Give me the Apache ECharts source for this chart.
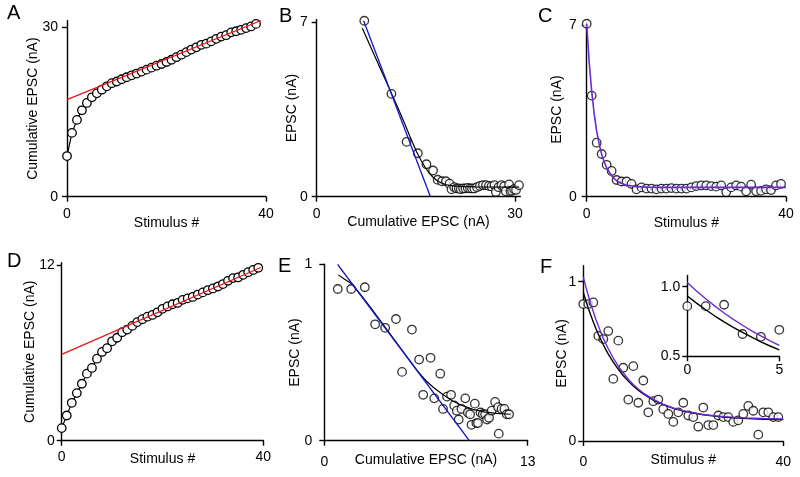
<!DOCTYPE html>
<html>
<head>
<meta charset="utf-8">
<script src="https://cdn.jsdelivr.net/npm/echarts@6/dist/echarts.min.js"></script>
<style>
html,body{margin:0;padding:0;background:#fff;}
#chart{width:800px;height:477px;}
</style>
</head>
<body>
<div id="chart"></div>
<script>
// ---------- DATA ----------
// Panel A: cumulative EPSC (nA) vs stimulus # (stimulus 0..38)
const cumulA = [7.2, 11.3, 13.6, 15.3, 16.6, 17.6, 18.3, 18.95, 19.55, 20.1, 20.4, 20.8, 21.15, 21.5, 21.8, 22.15, 22.5, 22.85, 23.2, 23.5, 23.85, 24.25, 24.7, 25.15, 25.6, 26.05, 26.45, 26.9, 27.1, 27.5, 27.95, 28.35, 28.6, 29.1, 29.3, 29.55, 29.85, 30.15, 30.6];
const redFitA = [[0, 17.2], [39, 31.2]];
// Panel C: EPSC (nA) vs stimulus # (0..39)
const epscC = [7.05, 4.12, 2.2, 1.74, 1.3, 1.05, 0.68, 0.62, 0.62, 0.52, 0.3, 0.38, 0.33, 0.33, 0.3, 0.33, 0.33, 0.35, 0.33, 0.33, 0.33, 0.38, 0.43, 0.46, 0.46, 0.43, 0.41, 0.46, 0.19, 0.38, 0.46, 0.41, 0.22, 0.49, 0.22, 0.24, 0.3, 0.27, 0.46, 0.52];
const fitCx = [0, 0.5, 1, 1.5, 2, 2.5, 3, 3.5, 4, 5, 6, 7, 8, 10, 12, 15, 20, 40];
const purpleFitC = [7.05, 5.49, 4.3, 3.38, 2.68, 2.15, 1.73, 1.42, 1.18, 0.85, 0.65, 0.54, 0.47, 0.41, 0.39, 0.382, 0.38, 0.38];
// Panel B: fits of EPSC vs cumulative EPSC
const blackFitB = [[6.9, 6.75], [8, 6.1], [9.1, 5.45], [10.2, 4.8], [11.3, 4.15], [12.3, 3.55], [13.3, 2.93], [14.2, 2.35], [15.1, 1.8], [15.8, 1.45], [16.4, 1.18], [17, 0.95], [17.6, 0.78], [18.2, 0.65], [18.8, 0.56], [19.5, 0.49], [20.3, 0.44], [21.5, 0.41], [24, 0.39], [30.6, 0.38]];
const blueFitB = [[7.1, 7.05], [17.2, 0]];
// Panel D: cumulative EPSC (nA) vs stimulus # (0..39)
const cumulD = [0.86, 1.72, 2.59, 3.25, 3.89, 4.58, 4.97, 5.6, 6.06, 6.32, 6.79, 7.03, 7.41, 7.59, 7.84, 8.1, 8.3, 8.47, 8.59, 8.77, 9.01, 9.17, 9.32, 9.41, 9.62, 9.72, 9.82, 9.98, 10.13, 10.28, 10.4, 10.53, 10.7, 10.92, 11.11, 11.15, 11.33, 11.51, 11.66, 11.81];
const redFitD = [[0, 5.9], [39.5, 11.83]];
// Panel F: EPSC (nA) vs stimulus # (0..39)
const epscF = [0.86, 0.86, 0.87, 0.66, 0.64, 0.69, 0.39, 0.63, 0.46, 0.26, 0.47, 0.24, 0.38, 0.18, 0.25, 0.26, 0.2, 0.17, 0.12, 0.18, 0.24, 0.16, 0.15, 0.09, 0.21, 0.1, 0.1, 0.16, 0.15, 0.15, 0.12, 0.13, 0.17, 0.22, 0.19, 0.04, 0.18, 0.18, 0.15, 0.15];
const fitFx = [0, 0.5, 1, 1.5, 2, 2.5, 3, 3.5, 4, 4.5, 5, 6, 7, 8, 9, 10, 11, 12, 14, 16, 18, 20, 24, 28, 32, 36, 40];
const purpleFitF = [1.03, 0.969, 0.913, 0.86, 0.811, 0.765, 0.723, 0.683, 0.646, 0.611, 0.579, 0.521, 0.47, 0.427, 0.388, 0.355, 0.326, 0.301, 0.261, 0.23, 0.207, 0.189, 0.166, 0.153, 0.145, 0.141, 0.138];
const blackFitF = [0.933, 0.882, 0.834, 0.789, 0.747, 0.708, 0.671, 0.637, 0.604, 0.574, 0.546, 0.495, 0.45, 0.41, 0.376, 0.345, 0.319, 0.296, 0.257, 0.228, 0.205, 0.188, 0.164, 0.15, 0.142, 0.137, 0.134];
// Panel E: fits of EPSC vs cumulative EPSC
const blueFitE = [[0.85, 1.0], [9.27, 0]];
const blackFitE = [[0.9, 0.94], [1.3, 0.915], [1.75, 0.89], [2.4, 0.82], [3, 0.75], [4, 0.63], [5, 0.51], [6, 0.39], [6.5, 0.34], [7, 0.3], [7.6, 0.26], [8.2, 0.225], [8.8, 0.2], [9.5, 0.178], [10.2, 0.163], [11, 0.155], [11.9, 0.15]];
// Inset (F): stimulus 0..5
const insetPoints = 6;   // stimuli 0..5
const insetFitPoints = 11; // fit samples 0..5

// Tick labels
const ticksX = { A: [0, 40], B: [0, 30], C: [0, 40], D: [0, 40], E: [0, 13], F: [0, 40], I: [0, 5] };
const ticksY = { A: [0, 30], B: [0, 7], C: [0, 7], D: [0, 12], E: [0, 1], F: [0, 1], I: [0.5, 1.0] };

// ---------- CHART ----------
const FONT = 'Liberation Sans, Arial, Helvetica, sans-serif';
const BLACK = '#000';
const RED = '#ee1111';
const BLUE = '#1414c8';
const PURPLE = '#6a2ad4';

const grids = [
  { key: 'A', left: 67, top: 20.5, width: 199, height: 176.2, xmax: 40, ymin: 0, ymax: 31.2, xName: 'Stimulus #', yName: 'Cumulative EPSC (nA)', xGap: 19, yGap: 27, xm: 10, ym: 9 },
  { key: 'B', left: 316.7, top: 19.5, width: 203.6, height: 177.2, xmax: 30.8, ymin: 0, ymax: 7.1, xName: 'Cumulative EPSC (nA)', yName: 'EPSC (nA)', xGap: 18, yGap: 18, xm: 10, ym: 9 },
  { key: 'C', left: 586.7, top: 22.5, width: 199.3, height: 174.2, xmax: 40, ymin: 0, ymax: 7.1, xName: 'Stimulus #', yName: 'EPSC (nA)', xGap: 19, yGap: 23, xm: 10, ym: 10 },
  { key: 'D', left: 61.7, top: 262.8, width: 201.6, height: 177.9, xmax: 40, ymin: 0, ymax: 12.15, xName: 'Stimulus #', yName: 'Cumulative EPSC (nA)', xGap: 11, yGap: 25, xm: 9, ym: 7 },
  { key: 'E', left: 324.3, top: 264.3, width: 203.4, height: 176.4, xmax: 13, ymin: 0, ymax: 1.0, xName: 'Cumulative EPSC (nA)', yName: 'EPSC (nA)', xGap: 12, yGap: 22, xm: 14, ym: 12 },
  { key: 'F', left: 583.3, top: 265.8, width: 200, height: 175.2, xmax: 40, ymin: 0, ymax: 1.1, xName: 'Stimulus #', yName: 'EPSC (nA)', xGap: 12, yGap: 14, xm: 14, ym: 7 },
  { key: 'I', left: 687.3, top: 275.5, width: 92, height: 80.8, xmax: 5, ymin: 0.5, ymax: 1.08, xName: '', yName: '', xGap: 10, yGap: 10, xm: 7, ym: 7 }
];

const axisCommon = {
  type: 'value',
  axisLine: { show: true, onZero: false, lineStyle: { color: BLACK, width: 1.4 } },
  splitLine: { show: false },
  nameLocation: 'middle',
  nameMoveOverlap: false,
  nameTextStyle: { color: BLACK, fontSize: 14, fontFamily: FONT },
};

const xAxes = grids.map((g, i) => Object.assign({}, axisCommon, {
  gridIndex: i, min: 0, max: g.xmax, name: g.xName, nameGap: g.xGap,
  axisTick: { show: true, length: 5, customValues: ticksX[g.key], lineStyle: { color: BLACK, width: 1.4 } },
  axisLabel: { show: true, customValues: ticksX[g.key], margin: g.xm, color: BLACK, fontSize: 14, fontFamily: FONT }
}));
const yAxes = grids.map((g, i) => Object.assign({}, axisCommon, {
  gridIndex: i, min: g.ymin, max: g.ymax, name: g.yName, nameGap: g.yGap,
  axisTick: { show: true, length: 5, customValues: ticksY[g.key], lineStyle: { color: BLACK, width: 1.4 } },
  axisLabel: { show: true, customValues: ticksY[g.key], margin: g.ym, color: BLACK, fontSize: 14, fontFamily: FONT,
    formatter: g.key === 'I' ? (v => Number(v).toFixed(1)) : (v => String(v)) }
}));

const pointStyle = { color: '#fff', borderColor: BLACK, borderWidth: 1.3 };
function scatter(gi, data) {
  return { type: 'scatter', xAxisIndex: gi, yAxisIndex: gi, data, symbol: 'circle', symbolSize: 8.5,
    itemStyle: pointStyle, clip: false, z: 3, silent: true };
}
function fitLine(gi, data, color, width) {
  return { type: 'line', xAxisIndex: gi, yAxisIndex: gi, data, symbol: 'none', showSymbol: false,
    smooth: false, lineStyle: { color, width }, clip: false, z: 5, silent: true };
}
function pairs(xs, ys) { return ys.map((v, i) => [xs[i], v]); }
function indexed(ys) { return ys.map((v, i) => [i, v]); }

const series = [
  // A
  { type: 'line', xAxisIndex: 0, yAxisIndex: 0, data: indexed(cumulA), symbol: 'circle', symbolSize: 8.5, showAllSymbol: true,
    itemStyle: pointStyle, lineStyle: { color: BLACK, width: 1.2 }, clip: false, z: 3, silent: true },
  fitLine(0, redFitA, RED, 1.3),
  // B
  scatter(1, pairs(cumulA, epscC)),
  fitLine(1, blackFitB, BLACK, 1.2),
  fitLine(1, blueFitB, BLUE, 1.3),
  // C
  scatter(2, indexed(epscC)),
  fitLine(2, pairs(fitCx, purpleFitC), PURPLE, 1.6),
  // D
  { type: 'line', xAxisIndex: 3, yAxisIndex: 3, data: indexed(cumulD), symbol: 'circle', symbolSize: 8.5, showAllSymbol: true,
    itemStyle: pointStyle, lineStyle: { color: BLACK, width: 1.2 }, clip: false, z: 3, silent: true },
  fitLine(3, redFitD, RED, 1.3),
  // E
  scatter(4, pairs(cumulD, epscF)),
  fitLine(4, blackFitE, BLACK, 1.2),
  fitLine(4, blueFitE, BLUE, 1.4),
  // F
  scatter(5, indexed(epscF)),
  fitLine(5, pairs(fitFx, blackFitF), BLACK, 1.4),
  fitLine(5, pairs(fitFx, purpleFitF), PURPLE, 1.4),
  // Inset
  scatter(6, indexed(epscF.slice(0, insetPoints))),
  fitLine(6, pairs(fitFx, blackFitF.slice(0, insetFitPoints)), BLACK, 1.4),
  fitLine(6, pairs(fitFx, purpleFitF.slice(0, insetFitPoints)), PURPLE, 1.4)
];

const letters = [['A', 7, 3], ['B', 279, 6], ['C', 538, 6], ['D', 7, 251], ['E', 278, 256], ['F', 540, 257]];
const graphic = letters.map(([t, x, y]) => ({
  type: 'text', left: x, top: y, silent: true,
  style: { text: t, fill: BLACK, font: '20px ' + FONT }
}));

const chart = echarts.init(document.getElementById('chart'), null, { renderer: 'canvas' });
chart.setOption({
  animation: false,
  backgroundColor: '#fff',
  grid: grids.map(g => ({ left: g.left, top: g.top, width: g.width, height: g.height, containLabel: false })),
  xAxis: xAxes,
  yAxis: yAxes,
  series,
  graphic
});
</script>
</body>
</html>
